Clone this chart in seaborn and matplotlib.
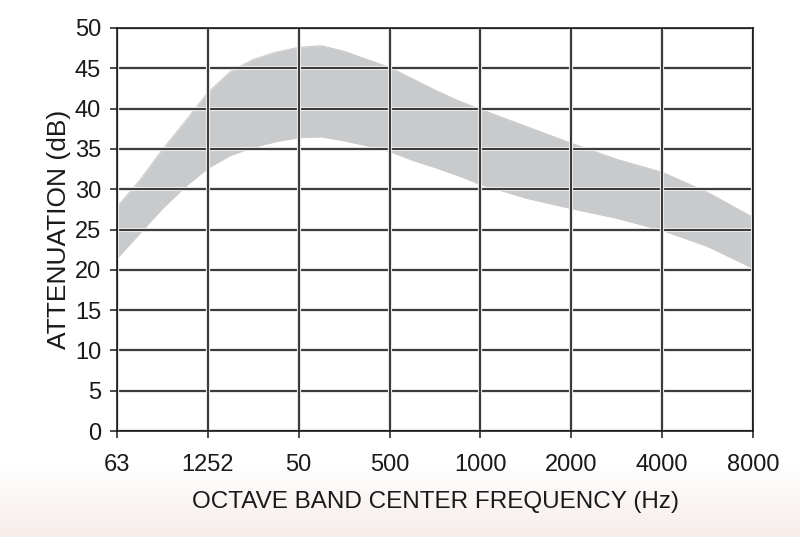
import numpy as np
import pandas as pd
import matplotlib
matplotlib.use("Agg")
import matplotlib.pyplot as plt
import matplotlib.patheffects as pe
import seaborn as sns

# Data
tick_labels = ["63", "1252", "50", "500", "1000", "2000", "4000", "8000"]
band_pos = [0, 0.25, 0.5, 0.75, 1, 1.25, 1.5, 1.75, 2, 2.25, 2.5, 2.75, 3, 3.25, 3.5, 3.75, 4,
            4.5, 5, 5.5, 6, 6.5, 7]
upper = [27.8, 31.1, 34.9, 38.4, 42.0, 44.6, 46.1, 47.0, 47.6, 47.8, 47.1, 46.1, 45.1, 43.7, 42.3, 41.0, 39.9,
         37.8, 35.7, 33.7, 32.1, 29.6, 26.5]
lower = [21.4, 24.5, 27.6, 30.3, 32.6, 34.2, 35.2, 35.9, 36.4, 36.5, 36.0, 35.4, 34.7, 33.6, 32.7, 31.7, 30.6,
         28.9, 27.6, 26.4, 24.9, 22.9, 20.2]
y_ticks = [0, 5, 10, 15, 20, 25, 30, 35, 40, 45, 50]

sns.set_theme(style="white")
plt.rcParams["font.family"] = ["Liberation Sans", "DejaVu Sans"]

fig = plt.figure(figsize=(8, 5.37), dpi=100)

# background gradient (white to faint pink at the bottom)
bg = fig.add_axes([0, 0, 1, 1], zorder=-10)
h = 537
grad = np.ones((h, 1, 3))
top_c = np.array([1.0, 1.0, 1.0])
bot_c = np.array([246, 236, 233]) / 255.0
for i in range(h):
    if i > 462:
        t = (i - 462) / (h - 462)
        grad[i, 0] = top_c * (1 - t) + bot_c * t
bg.imshow(grad, aspect="auto", extent=[0, 1, 0, 1], origin="upper")
bg.axis("off")

ax = fig.add_axes([117 / 800, 106 / 537, 636 / 800, 403 / 537])
ax.patch.set_alpha(0)

df = pd.DataFrame({"pos": band_pos, "upper": upper, "lower": lower})
ax.fill_between(df["pos"], df["lower"], df["upper"], color="#c9cacc", lw=0, zorder=1)
sns.lineplot(data=df, x="pos", y="upper", ax=ax, color="#c9cacc", lw=0.8, zorder=1)
sns.lineplot(data=df, x="pos", y="lower", ax=ax, color="#c9cacc", lw=0.8, zorder=1)

ax.set_xlim(0, 7)
ax.set_ylim(0, 50)
ax.set_xticks(range(len(tick_labels)))
ax.set_xticklabels(tick_labels)
ax.set_yticks(y_ticks)

halo = [pe.withStroke(linewidth=3.0, foreground="#e6e7e8")]
for v in y_ticks:
    ax.axhline(v, color="#1a1a1a", lw=1.2, zorder=3, path_effects=halo)
for p in range(len(tick_labels)):
    ax.axvline(p, color="#1a1a1a", lw=1.2, zorder=3, path_effects=halo)

for s in ax.spines.values():
    s.set_color("#1a1a1a")
    s.set_linewidth(1.2)
    s.set_zorder(4)

ax.tick_params(axis="both", which="major", direction="out", length=5, width=1.1,
               color="#1a1a1a", labelsize=17, labelcolor="#1a1a1a",
               bottom=True, left=True)
ax.tick_params(axis="y", pad=6.5)
ax.tick_params(axis="x", pad=11.5)

ax.set_xlabel("OCTAVE BAND CENTER FREQUENCY (Hz)", fontsize=17.5, color="#1a1a1a", labelpad=11)
ax.set_ylabel("ATTENUATION (dB)", fontsize=19, color="#1a1a1a", labelpad=3)

fig.savefig("out.png", dpi=100)
